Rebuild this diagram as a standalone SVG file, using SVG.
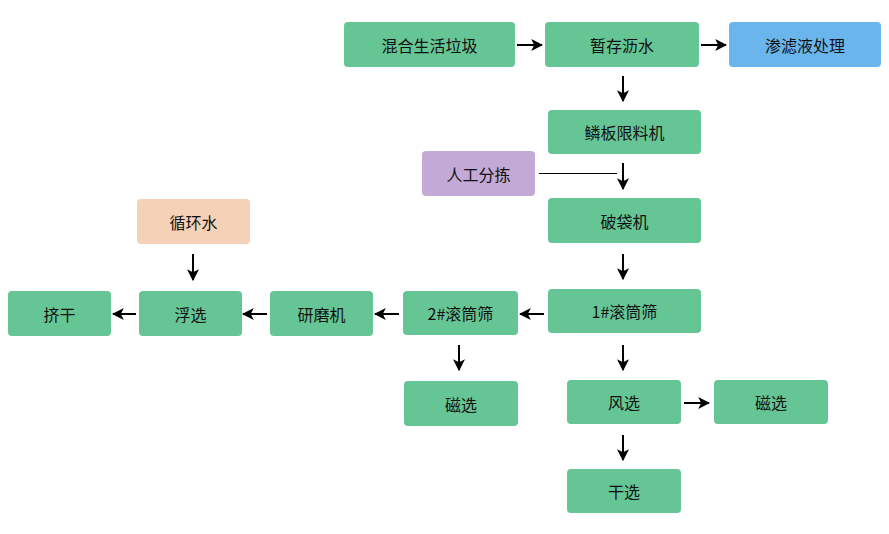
<svg xmlns="http://www.w3.org/2000/svg" width="889" height="534" viewBox="0 0 889 534">
<defs>
<style>
.g{fill:#66c594}
.b{fill:#6ab6ec}
.p{fill:#c3a9d6}
.o{fill:#f4d1b7}
text{font-family:"Noto Sans CJK SC","Microsoft YaHei",sans-serif;font-size:16px;fill:#111;text-anchor:middle;dominant-baseline:central}
.c{stroke:#000;stroke-width:2;fill:none;marker-end:url(#ah)}
</style>
<marker id="ah" viewBox="0 0 10 10" refX="9" refY="5" markerWidth="6" markerHeight="6" orient="auto" markerUnits="strokeWidth">
<path d="M0,0 L10,5 L0,10 L2.5,5 Z" fill="#000"/>
</marker>
</defs>
<rect width="889" height="534" fill="#fff"/>
<g id="connectors">
<line class="c" x1="517" y1="45" x2="542" y2="45"/>
<line class="c" x1="701" y1="45" x2="726" y2="45"/>
<line class="c" x1="623" y1="76" x2="623" y2="101"/>
<line x1="539" y1="173.5" x2="617" y2="173.5" stroke="#000" stroke-width="1"/>
<line class="c" x1="623" y1="163" x2="623" y2="189"/>
<line class="c" x1="623" y1="254" x2="623" y2="279"/>
<line class="c" x1="544" y1="314" x2="520" y2="314"/>
<line class="c" x1="399" y1="314" x2="375" y2="314"/>
<line class="c" x1="267" y1="314" x2="243" y2="314"/>
<line class="c" x1="136" y1="314" x2="113" y2="314"/>
<line class="c" x1="193" y1="254" x2="193" y2="280"/>
<line class="c" x1="459" y1="345" x2="459" y2="370"/>
<line class="c" x1="623" y1="345" x2="623" y2="370"/>
<line class="c" x1="684" y1="403" x2="709" y2="403"/>
<line class="c" x1="623" y1="435" x2="623" y2="460"/>
</g>
<g id="n1"><rect class="g" x="344" y="22" width="171" height="45" rx="4"/><text x="429.5" y="45">混合生活垃圾</text></g>
<g id="n2"><rect class="g" x="545" y="22" width="154" height="45" rx="4"/><text x="622" y="45">暂存沥水</text></g>
<g id="n3"><rect class="b" x="729" y="22" width="152" height="45" rx="4"/><text x="805" y="45">渗滤液处理</text></g>
<g id="n4"><rect class="g" x="548" y="110" width="153" height="44" rx="4"/><text x="624.5" y="132">鳞板限料机</text></g>
<g id="n5"><rect class="p" x="422" y="151" width="113" height="45" rx="4"/><text x="478.5" y="173.5">人工分拣</text></g>
<g id="n6"><rect class="g" x="548" y="198" width="153" height="45" rx="4"/><text x="624.5" y="220.5">破袋机</text></g>
<g id="n7"><rect class="o" x="137" y="199" width="113" height="45" rx="4"/><text x="193.5" y="221.5">循环水</text></g>
<g id="n8"><rect class="g" x="548" y="289" width="153" height="44" rx="4"/><text x="624.5" y="311">1#滚筒筛</text></g>
<g id="n9"><rect class="g" x="403" y="291" width="115" height="44" rx="4"/><text x="460.5" y="313">2#滚筒筛</text></g>
<g id="n10"><rect class="g" x="270" y="291" width="103" height="45" rx="4"/><text x="321.5" y="313.5">研磨机</text></g>
<g id="n11"><rect class="g" x="139" y="291" width="103" height="45" rx="4"/><text x="190.5" y="313.5">浮选</text></g>
<g id="n12"><rect class="g" x="8" y="291" width="103" height="45" rx="4"/><text x="59.5" y="313.5">挤干</text></g>
<g id="n13"><rect class="g" x="404" y="381" width="114" height="45" rx="4"/><text x="461" y="403.5">磁选</text></g>
<g id="n14"><rect class="g" x="567" y="380" width="114" height="44" rx="4"/><text x="624" y="402">风选</text></g>
<g id="n15"><rect class="g" x="714" y="380" width="114" height="44" rx="4"/><text x="771" y="402">磁选</text></g>
<g id="n16"><rect class="g" x="567" y="469" width="114" height="44" rx="4"/><text x="624" y="491">干选</text></g>
</svg>
